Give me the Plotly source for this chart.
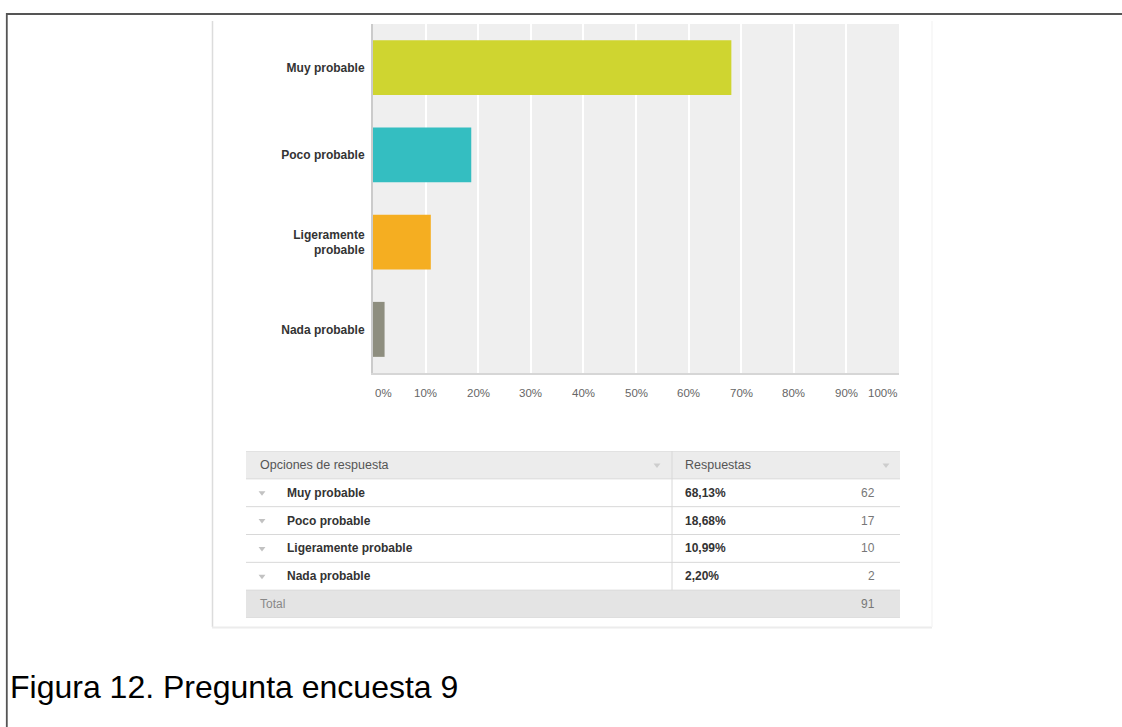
import plotly.graph_objects as go

W, H = 1122, 727

# ---- data -------------------------------------------------------------
categories = ["Muy probable", "Poco probable", "Ligeramente probable", "Nada probable"]
axis_labels = ["Muy probable", "Poco probable", "Ligeramente<br>probable", "Nada probable"]
percentages = [68.13, 18.68, 10.99, 2.20]
counts = [62, 17, 10, 2]
total_count = 91
bar_colors = ["#cfd530", "#34bec1", "#f5ae21", "#8e8e7f"]
tick_values = [0, 10, 20, 30, 40, 50, 60, 70, 80, 90, 100]
tick_labels = [f"{v}%" for v in tick_values]
header_labels = ["Opciones de respuesta", "Respuestas"]
total_label = "Total"
caption = "Figura 12. Pregunta encuesta 9"

FONT = "Liberation Sans, Arial, Helvetica, sans-serif"


def fx(x):
    """pixel column -> paper x"""
    return x / W


def fy(y):
    """pixel row (from top) -> paper y"""
    return 1 - y / H


def pct_text(p):
    return f"{p:.2f}".replace(".", ",") + "%"


fig = go.Figure()

# ---- bar chart ----------------------------------------------------------
fig.add_trace(go.Bar(
    x=percentages,
    y=categories,
    orientation="h",
    width=0.63,
    marker=dict(color=bar_colors, line=dict(width=0)),
    hoverinfo="skip",
    xaxis="x", yaxis="y",
))

# ---- table (rows indexed 0 = header .. 5 = total) -------------------------
n_rows = len(categories)
row_ids = list(range(1, n_rows + 1))
total_row = n_rows + 1

# small sort arrows
fig.add_trace(go.Scatter(
    x=[262] * n_rows + [657, 886],
    y=row_ids + [0, 0],
    mode="markers",
    marker=dict(symbol="triangle-down", size=6,
                color=["#c2c2c2"] * n_rows + ["#cdcdcd", "#cdcdcd"]),
    hoverinfo="skip",
    xaxis="x2", yaxis="y2",
))

annotations = []

# x tick labels placed on the value scale
for i, (v, t) in enumerate(zip(tick_values, tick_labels)):
    anchor = "left" if i == 0 else ("right" if i == len(tick_values) - 1 else "center")
    annotations.append(dict(
        x=v, y=fy(393), xref="x", yref="paper", text=t, showarrow=False,
        xanchor=anchor, yanchor="middle",
        font=dict(family=FONT, size=11.5, color="#666666"),
    ))

# table header
annotations.append(dict(x=258, y=0, xref="x2", yref="y2", text=header_labels[0],
                        showarrow=False, xanchor="left", yanchor="middle",
                        font=dict(family=FONT, size=12.5, color="#555555")))
annotations.append(dict(x=683, y=0, xref="x2", yref="y2", text=header_labels[1],
                        showarrow=False, xanchor="left", yanchor="middle",
                        font=dict(family=FONT, size=12.5, color="#555555")))

# table body
for r, (cat, p, c) in zip(row_ids, zip(categories, percentages, counts)):
    annotations.append(dict(x=285, y=r, xref="x2", yref="y2", text=f"<b>{cat}</b>",
                            showarrow=False, xanchor="left", yanchor="middle",
                            font=dict(family=FONT, size=12, color="#333333")))
    annotations.append(dict(x=683, y=r, xref="x2", yref="y2", text=f"<b>{pct_text(p)}</b>",
                            showarrow=False, xanchor="left", yanchor="middle",
                            font=dict(family=FONT, size=12, color="#333333")))
    annotations.append(dict(x=877, y=r, xref="x2", yref="y2", text=str(c),
                            showarrow=False, xanchor="right", yanchor="middle",
                            font=dict(family=FONT, size=12, color="#777777")))

# total row
annotations.append(dict(x=258, y=total_row, xref="x2", yref="y2", text=total_label,
                        showarrow=False, xanchor="left", yanchor="middle",
                        font=dict(family=FONT, size=12, color="#888888")))
annotations.append(dict(x=877, y=total_row, xref="x2", yref="y2", text=str(total_count),
                        showarrow=False, xanchor="right", yanchor="middle",
                        font=dict(family=FONT, size=12, color="#777777")))

# figure caption
annotations.append(dict(x=fx(8), y=fy(687), xref="paper", yref="paper", text=caption,
                        showarrow=False, xanchor="left", yanchor="middle",
                        font=dict(family=FONT, size=32, color="#000000")))

# ---- shapes -------------------------------------------------------------
shapes = []
# chart plotting area background
shapes.append(dict(type="rect", xref="x domain", yref="y domain", x0=0, x1=1, y0=0, y1=1,
                   fillcolor="#efefef", line=dict(width=0), layer="below"))

# table backgrounds and rules
tbl_x0, tbl_x1, col_div = 246, 900, 672
shapes.append(dict(type="rect", xref="x2", yref="y2", x0=tbl_x0, x1=tbl_x1, y0=-0.5, y1=0.5,
                   fillcolor="#ececec", line=dict(width=0), layer="below"))
shapes.append(dict(type="rect", xref="x2", yref="y2", x0=tbl_x0, x1=tbl_x1,
                   y0=total_row - 0.5, y1=total_row + 0.5,
                   fillcolor="#e4e4e4", line=dict(width=0), layer="below"))
for k in range(total_row + 2):
    yb = k - 0.5
    shapes.append(dict(type="line", xref="x2", yref="y2", x0=tbl_x0, x1=tbl_x1, y0=yb, y1=yb,
                       line=dict(color="#d8d8d8", width=1), layer="below"))
shapes.append(dict(type="line", xref="x2", yref="y2", x0=col_div, x1=col_div,
                   y0=-0.5, y1=total_row - 0.5,
                   line=dict(color="#d8d8d8", width=1), layer="below"))

# screenshot panel edges
shapes.append(dict(type="line", xref="paper", yref="paper", x0=fx(212.5), x1=fx(212.5),
                   y0=fy(21), y1=fy(627), line=dict(color="#dcdcdc", width=1.5)))
shapes.append(dict(type="line", xref="paper", yref="paper", x0=fx(212), x1=fx(932),
                   y0=fy(627.5), y1=fy(627.5), line=dict(color="#ececec", width=2)))
shapes.append(dict(type="line", xref="paper", yref="paper", x0=fx(932), x1=fx(932),
                   y0=fy(21), y1=fy(627), line=dict(color="#f6f6f6", width=1.5)))

# outer figure frame
shapes.append(dict(type="rect", xref="paper", yref="paper", x0=fx(6.8), x1=fx(1140),
                   y0=fy(745), y1=fy(14), line=dict(color="#555555", width=1.8),
                   fillcolor="rgba(0,0,0,0)"))

fig.update_layout(
    width=W, height=H,
    margin=dict(l=0, r=0, t=0, b=0),
    paper_bgcolor="#ffffff",
    plot_bgcolor="rgba(0,0,0,0)",
    showlegend=False,
    font=dict(family=FONT),
    xaxis=dict(
        domain=[fx(373), fx(899)], range=[0, 100], anchor="y",
        tickvals=tick_values, showticklabels=False, ticks="",
        showgrid=True, gridcolor="#ffffff", gridwidth=2,
        zeroline=False, showline=True, linecolor="#d6d6d6", linewidth=2,
        fixedrange=True,
    ),
    yaxis=dict(
        domain=[fy(373), fy(24)], anchor="x",
        categoryorder="array", categoryarray=categories, autorange="reversed",
        tickvals=categories, ticktext=axis_labels, ticks="",
        ticklabelstandoff=4,
        tickfont=dict(family=FONT, size=12, color="#333333", weight="bold"),
        showgrid=False, zeroline=False, showline=True, linecolor="#cbcbcb", linewidth=2,
        fixedrange=True,
    ),
    xaxis2=dict(domain=[0, 1], range=[0, W], anchor="y2", visible=False, fixedrange=True),
    yaxis2=dict(domain=[fy(618), fy(451)], range=[total_row + 0.5, -0.5], anchor="x2",
                visible=False, fixedrange=True),
    annotations=annotations,
    shapes=shapes,
)

fig.write_html("out.html")
